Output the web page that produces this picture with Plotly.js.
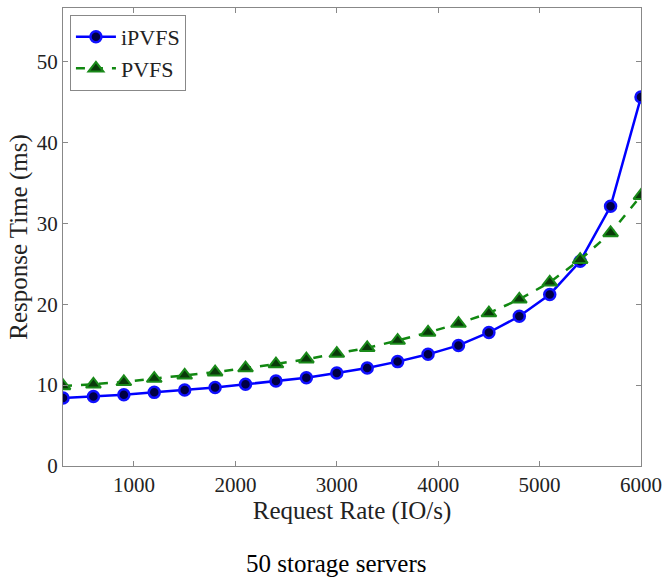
<!DOCTYPE html>
<html>
<head>
<meta charset="utf-8">
<script src="https://cdn.plot.ly/plotly-3.0.1.min.js"></script>
<style>html,body{margin:0;padding:0;background:#fff;}</style>
</head>
<body>
<div id="chart" style="width:662px;height:577px;"></div>
<script>
const requestRate = [300,600,900,1200,1500,1800,2100,2400,2700,3000,3300,3600,3900,4200,4500,4800,5100,5400,5700,6000];
const ipvfs = [8.4,8.6,8.8,9.1,9.4,9.7,10.1,10.5,10.9,11.5,12.1,12.9,13.8,14.9,16.5,18.5,21.2,25.3,32.1,45.6];
const pvfs = [9.9,10.1,10.4,10.8,11.2,11.6,12.1,12.6,13.2,13.9,14.6,15.5,16.5,17.6,18.9,20.6,22.7,25.5,28.8,33.4];
const xTicks = [1000,2000,3000,4000,5000,6000];
const yTicks = [0,10,20,30,40,50];

const font = {family: '"Liberation Serif", "Times New Roman", serif', color: '#222'};

const traces = [
  {x: requestRate, y: ipvfs, name: 'iPVFS', type: 'scatter', mode: 'lines+markers',
   line: {color: '#0000ff', width: 2.5},
   marker: {symbol: 'circle', size: 11, color: '#000044', line: {color: '#1010ff', width: 2.5}}},
  {x: requestRate, y: pvfs, name: 'PVFS', type: 'scatter', mode: 'lines+markers',
   line: {color: '#118811', width: 2.5, dash: 'dash'},
   marker: {symbol: 'triangle-up', size: 13, color: '#0a3a0a', line: {color: '#1a8a1a', width: 2}}}
];

const axisCommon = {
  showline: true, linecolor: '#888', linewidth: 1, mirror: 'ticks',
  ticks: 'inside', ticklen: 5, tickcolor: '#888', tickwidth: 1,
  showgrid: false, zeroline: false,
  tickfont: Object.assign({size: 21}, font)
};

const layout = {
  width: 662, height: 577,
  margin: {l: 63, r: 21, t: 8, b: 111},
  paper_bgcolor: '#fff', plot_bgcolor: '#fff',
  showlegend: true,
  legend: {x: 0.012, y: 0.985, xanchor: 'left', yanchor: 'top',
           bordercolor: '#888', borderwidth: 1, bgcolor: '#fff',
           font: Object.assign({size: 22}, font), tracegroupgap: 0, itemwidth: 40},
  xaxis: Object.assign({}, axisCommon, {
    range: [300, 6000], tickvals: xTicks, ticktext: xTicks.map(String),
    title: {text: 'Request Rate (IO/s)', font: Object.assign({size: 25}, font), standoff: 0}
  }),
  yaxis: Object.assign({}, axisCommon, {
    range: [0, 56.6], tickvals: yTicks, ticktext: yTicks.map(String),
    title: {text: 'Response Time (ms)', font: Object.assign({size: 25}, font), standoff: 2}
  }),
  annotations: [{
    text: '50 storage servers', xref: 'paper', yref: 'paper', x: 0.474, y: -0.212,
    xanchor: 'center', yanchor: 'middle', showarrow: false,
    font: Object.assign({size: 25}, font, {color: '#000'})
  }]
};

Plotly.newPlot('chart', traces, layout, {displayModeBar: false, staticPlot: true});
</script>
</body>
</html>
